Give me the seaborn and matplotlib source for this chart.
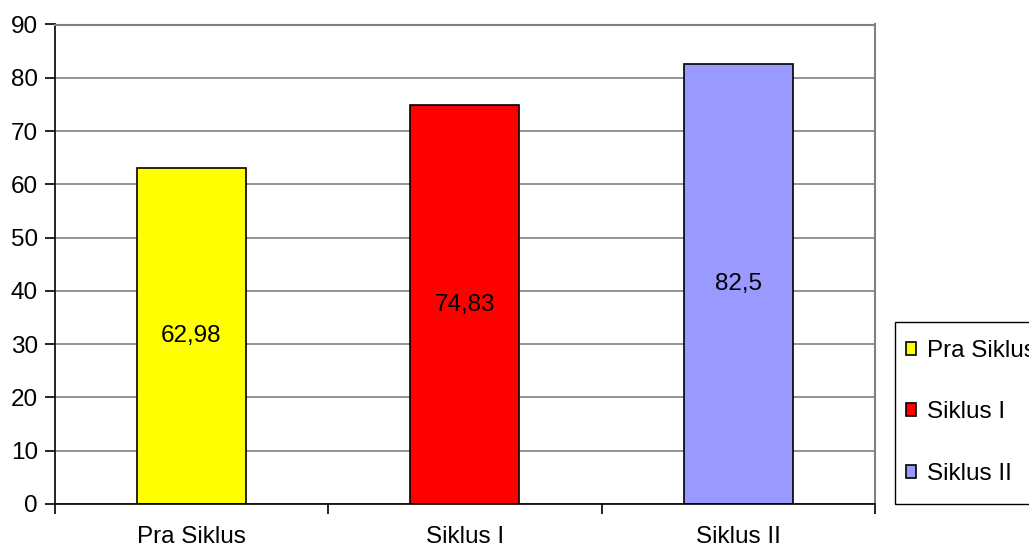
import matplotlib
matplotlib.use("Agg")
import matplotlib.pyplot as plt
import matplotlib.patches as mpatches
from matplotlib.ticker import FixedLocator, MultipleLocator
import seaborn as sns
import pandas as pd

categories = ["Pra Siklus", "Siklus I", "Siklus II"]
values = [62.98, 74.83, 82.5]
value_labels = ["62,98", "74,83", "82,5"]
colors = ["#FFFF00", "#FF0000", "#9999FF"]

sns.set_style("white")
plt.rcParams["font.family"] = ["Liberation Sans", "DejaVu Sans"]

FS = 17.5
W, H = 1029, 547

df = pd.DataFrame({"cat": categories, "val": values})

fig = plt.figure(figsize=(W / 100, H / 100), dpi=100)
ax = fig.add_axes([54.5 / W, 43 / H, (875 - 54.5) / W, (504 - 24.5) / H])

sns.barplot(data=df, x="cat", y="val", hue="cat", palette=colors, order=categories,
            hue_order=categories, width=0.4, edgecolor="black", linewidth=1.2,
            legend=False, ax=ax, saturation=1)

ax.set_xlim(-0.5, 2.5)
ax.set_ylim(0, 90)
ax.yaxis.set_major_locator(MultipleLocator(10))
ax.set_axisbelow(True)
ax.yaxis.grid(True, color="#808080", linewidth=1.2)
ax.xaxis.grid(False)

for i, (v, lab) in enumerate(zip(values, value_labels)):
    ax.text(i, v / 2, lab, ha="center", va="center", fontsize=FS, color="black")

ax.set_xlabel("")
ax.set_ylabel("")
ax.tick_params(axis="x", which="major", length=0, pad=16, labelsize=FS, labelcolor="black")
ax.xaxis.set_minor_locator(FixedLocator([-0.5, 0.5, 1.5, 2.5]))
ax.tick_params(axis="x", which="minor", length=7, width=1.2, color="black", direction="out", bottom=True)
ax.tick_params(axis="y", which="major", length=7, width=1.2, color="black", direction="out", left=True, pad=5,
               labelsize=FS, labelcolor="black")

for s in ["left", "bottom"]:
    ax.spines[s].set_color("black")
    ax.spines[s].set_linewidth(1.2)
for s in ["top", "right"]:
    ax.spines[s].set_color("#808080")
    ax.spines[s].set_linewidth(1.5)

# legend frame drawn separately
frame = mpatches.Rectangle((895 / W, 1 - 503.5 / H), (1040 - 895) / W, (503.5 - 322) / H,
                           transform=fig.transFigure, facecolor="white", edgecolor="black",
                           linewidth=1.0, zorder=1)
fig.patches.append(frame)

handles = [mpatches.Patch(facecolor=c, edgecolor="black", linewidth=1.2, label=l)
           for c, l in zip(colors, categories)]
leg = fig.legend(handles=handles, loc="upper left", bbox_to_anchor=(905.5 / W, 1 - 340 / H),
                 frameon=False, fontsize=FS, handlelength=0.45, handleheight=0.45,
                 handletextpad=0.42, labelspacing=1.62, borderpad=0, borderaxespad=0)
for t in leg.get_texts():
    t.set_color("black")

fig.savefig("out.png", dpi=100)
